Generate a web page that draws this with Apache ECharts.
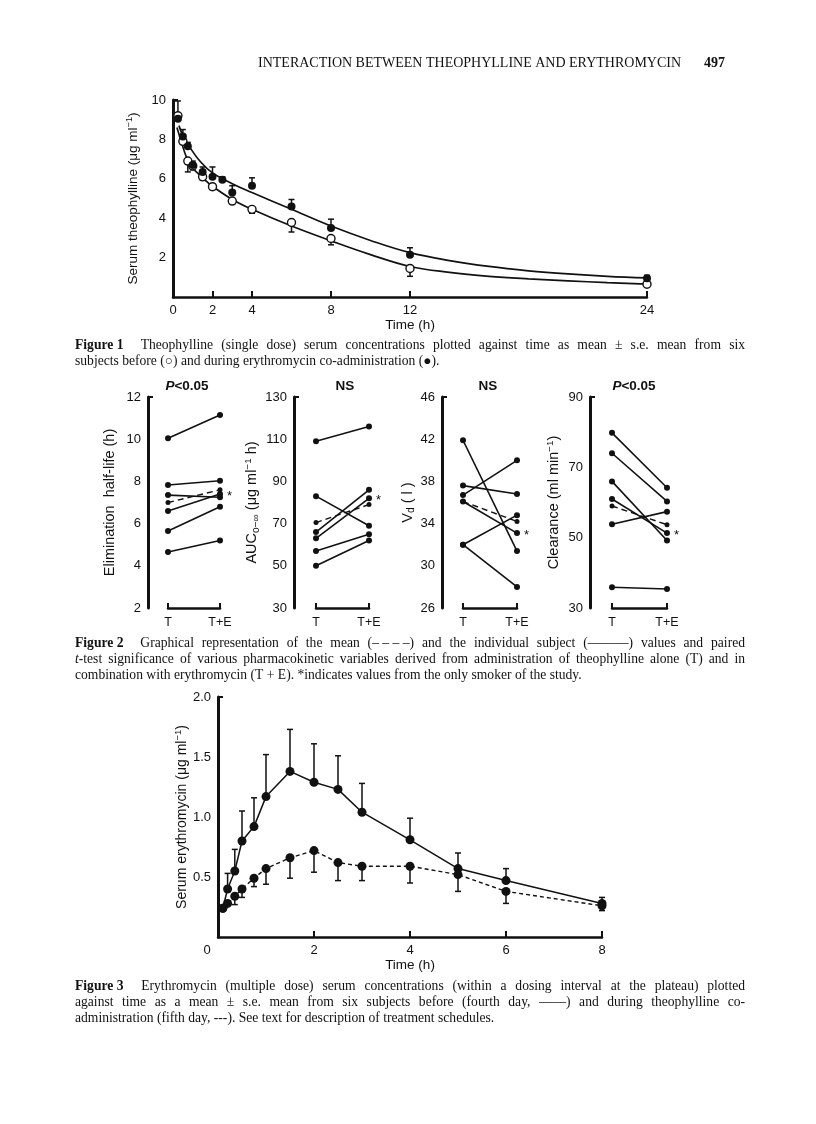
<!DOCTYPE html>
<html><head><meta charset="utf-8">
<script src="https://cdn.jsdelivr.net/npm/echarts@6/dist/echarts.min.js"></script>
<style>html,body{margin:0;padding:0;background:#fff}#c{width:816px;height:1124px}</style>
</head><body><div id="c"></div>
<script>
// ---------- Figure 1 data ----------
const fig1XTicks = [0, 2, 4, 8, 12, 24];
const fig1YTicks = [2, 4, 6, 8, 10];
const fig1OpenT = [0.25, 0.5, 0.75, 1, 1.5, 2, 3, 4, 6, 8, 12, 24];
const fig1OpenV = [9.2, 7.9, 6.9, 6.65, 6.1, 5.6, 4.87, 4.45, 3.78, 2.97, 1.45, 0.65];
const fig1OpenErr = [9.95, null, 6.35, 6.45, 5.95, 5.45, 4.75, 4.25, 3.3, 2.65, 1.05, null];
const fig1FilledT = [0.25, 0.5, 0.75, 1, 1.5, 2, 2.5, 3, 4, 6, 8, 12, 24];
const fig1FilledV = [9.05, 8.15, 7.65, 6.7, 6.35, 6.1, 5.95, 5.3, 5.65, 4.6, 3.5, 2.15, 0.95];
const fig1FilledErr = [null, 8.5, 7.85, 6.9, 6.6, 6.6, 6.1, 5.65, 6.05, 4.95, 3.95, 2.5, 1.1];
const fig1UpperCurveT = [0.3, 0.5, 0.85, 1.4, 2, 3, 4, 6, 8, 10, 12, 14, 16, 18, 20, 22, 24];
const fig1UpperCurveV = [8.7, 8.2, 7.6, 6.85, 6.3, 5.75, 5.3, 4.45, 3.6, 2.87, 2.25, 1.85, 1.55, 1.33, 1.17, 1.05, 0.97];
const fig1LowerCurveT = [0.2, 0.4, 0.7, 1, 1.5, 2, 3, 4, 6, 8, 10, 12, 14, 16, 18, 20, 22, 24];
const fig1LowerCurveV = [8.6, 7.95, 7.05, 6.55, 6.05, 5.62, 4.95, 4.45, 3.6, 2.85, 2.15, 1.55, 1.25, 1.05, 0.92, 0.82, 0.73, 0.65];

// ---------- Figure 2 data ----------
const fig2Groups = ['T', 'T+E'];
const halfLifeT = [10.05, 7.83, 7.35, 6.6, 5.65, 4.65];
const halfLifeTE = [11.15, 8.03, 7.25, 7.4, 6.8, 5.2];
const halfLifeMean = [7.0, 7.6];
const halfLifeTicks = [2, 4, 6, 8, 10, 12];
const aucT = [109, 83, 66, 63, 57, 50];
const aucTE = [116, 69, 86, 82, 65, 62];
const aucMean = [70.5, 79];
const aucTicks = [30, 50, 70, 90, 110, 130];
const vdT = [41.9, 37.6, 36.7, 36.1, 32.0, 32.0];
const vdTE = [31.4, 36.8, 40.0, 33.1, 34.8, 28.0];
const vdMean = [36.1, 34.2];
const vdTicks = [26, 30, 34, 38, 42, 46];
const clT = [79.8, 74, 66, 61, 53.8, 35.9];
const clTE = [64.2, 60.3, 49.2, 51.3, 57.4, 35.4];
const clMean = [59, 53.7];
const clTicks = [30, 50, 70, 90];
const smokerIndex = 3;
const fig2Titles = ['{i|P}<0.05', 'NS', 'NS', '{i|P}<0.05'];

// ---------- Figure 3 data ----------
const fig3XTicks = [0, 2, 4, 6, 8];
const fig3YTicks = [0.5, 1, 1.5, 2];
const fig3T = [0.1, 0.2, 0.35, 0.5, 0.75, 1, 1.5, 2, 2.5, 3, 4, 5, 6, 8];
const fig3Before = [0.24, 0.40, 0.55, 0.80, 0.92, 1.17, 1.38, 1.29, 1.23, 1.04, 0.81, 0.57, 0.47, 0.28];
const fig3BeforeErr = [null, 0.53, 0.73, 1.05, 1.16, 1.52, 1.73, 1.61, 1.51, 1.28, 0.99, 0.70, 0.57, 0.33];
const fig3During = [0.24, 0.28, 0.34, 0.40, 0.49, 0.57, 0.66, 0.72, 0.62, 0.59, 0.59, 0.52, 0.38, 0.26];
const fig3DuringErr = [null, null, 0.27, 0.33, 0.42, 0.44, 0.49, 0.54, 0.47, 0.47, 0.45, 0.38, 0.28, 0.22];

// ---------- text content ----------
const headerText = 'INTERACTION BETWEEN THEOPHYLLINE AND ERYTHROMYCIN';
const pageNumber = '497';
// '^' = bold word ('~' inside = space), '_t_' = italic t
const captions = [
  { y: 345, justify: true, text: '^Figure~1 Theophylline (single dose) serum concentrations plotted against time as mean ± s.e. mean from six' },
  { y: 361, justify: false, text: 'subjects before (○) and during erythromycin co-administration (●).' },
  { y: 643, justify: true, text: '^Figure~2 Graphical representation of the mean (–\u00a0–\u00a0–\u00a0–) and the individual subject (———) values and paired' },
  { y: 659, justify: true, text: '_t_-test significance of various pharmacokinetic variables derived from administration of theophylline alone (T) and in' },
  { y: 675, justify: false, text: 'combination with erythromycin (T + E). *indicates values from the only smoker of the study.' },
  { y: 986, justify: true, text: '^Figure~3 Erythromycin (multiple dose) serum concentrations (within a dosing interval at the plateau) plotted' },
  { y: 1002, justify: true, text: 'against time as a mean ± s.e. mean from six subjects before (fourth day, ——) and during theophylline co-' },
  { y: 1018, justify: false, text: 'administration (fifth day, ---). See text for description of treatment schedules.' }
];

// ---------- helpers ----------
const SANS = '"Liberation Sans", Arial, Helvetica, sans-serif';
const SERIF = '"Liberation Serif", "Times New Roman", serif';
const INK = '#111';
const zip = (a, b) => a.map((v, i) => [v, b[i]]);

function errSeries(idx, ts, vs, es, cap) {
  const data = [];
  ts.forEach((t, i) => { if (es[i] != null) data.push([t, vs[i], es[i]]); });
  return {
    type: 'custom', xAxisIndex: idx, yAxisIndex: idx, data, z: 2, clip: false, silent: true,
    renderItem: function (params, api) {
      const p1 = api.coord([api.value(0), api.value(1)]);
      const p2 = api.coord([api.value(0), api.value(2)]);
      const st = { stroke: INK, lineWidth: 1.5 };
      return { type: 'group', children: [
        { type: 'line', shape: { x1: p1[0], y1: p1[1], x2: p2[0], y2: p2[1] }, style: st },
        { type: 'line', shape: { x1: p2[0] - cap, y1: p2[1], x2: p2[0] + cap, y2: p2[1] }, style: st }
      ]};
    }
  };
}

function nameRich(fs) {
  return {
    n: { fontFamily: SANS, fontSize: fs, color: INK, lineHeight: 18, verticalAlign: 'middle' },
    p: { fontFamily: SANS, fontSize: fs * 0.68, color: INK, lineHeight: 18, verticalAlign: 'top' },
    s: { fontFamily: SANS, fontSize: fs * 0.7, color: INK, lineHeight: 18, verticalAlign: 'bottom' }
  };
}

function yAxisCfg(gi, min, max, ticks, name, gap, offset, fontSize, tickVals, fmt) {
  return {
    type: 'value', gridIndex: gi, min, max, offset,
    name, nameLocation: 'middle', nameRotate: 90, nameGap: gap,
    nameTextStyle: { rich: nameRich(fontSize) },
    axisLine: { show: true, onZero: false, lineStyle: { color: INK, width: 3 } },
    axisTick: { show: true, inside: true, length: 5, customValues: tickVals, lineStyle: { color: INK, width: 2 } },
    axisLabel: { customValues: ticks, margin: 7, color: INK, fontFamily: SANS, fontSize: 13, formatter: fmt || (v => String(v)) },
    splitLine: { show: false }
  };
}

// ---------- grids ----------
const grids = [
  { left: 173, top: 100, width: 474, height: 197 },
  { left: 168, top: 397, width: 52, height: 211 },
  { left: 316, top: 397, width: 53, height: 211 },
  { left: 463, top: 397, width: 54, height: 211 },
  { left: 612, top: 397, width: 55, height: 211 },
  { left: 218, top: 697, width: 384, height: 240 }
];

const xAxes = [];
const yAxes = [];
const series = [];

// Figure 1 axes
xAxes.push({
  type: 'value', gridIndex: 0, min: 0, max: 24,
  name: 'Time (h)', nameLocation: 'middle', nameGap: 21,
  nameTextStyle: { fontFamily: SANS, fontSize: 13.5, color: INK },
  axisLine: { show: true, onZero: false, lineStyle: { color: INK, width: 2.5 } },
  axisTick: { show: true, inside: true, length: 6, customValues: fig1XTicks.slice(1), lineStyle: { color: INK, width: 2 } },
  axisLabel: { customValues: fig1XTicks, margin: 7, color: INK, fontFamily: SANS, fontSize: 13 },
  splitLine: { show: false }
});
yAxes.push(yAxisCfg(0, 0, 10, fig1YTicks, '{n|Serum theophylline (μg ml}{p|−1}{n|)}', 22, 0, 13.5, [10]));

// Figure 2 axes and series
const f2 = [
  { T: halfLifeT, TE: halfLifeTE, M: halfLifeMean, ticks: halfLifeTicks, name: '{n|Elimination  half-life (h)}', gap: 29, off: 20 },
  { T: aucT, TE: aucTE, M: aucMean, ticks: aucTicks, name: '{n|AUC}{s|o−∞}{n| (μg ml}{p|−1}{n| h)}', gap: 27, off: 22 },
  { T: vdT, TE: vdTE, M: vdMean, ticks: vdTicks, name: '{n|V}{s|d}{n| ( l )}', gap: 20, off: 21 },
  { T: clT, TE: clTE, M: clMean, ticks: clTicks, name: '{n|Clearance (ml min}{p|−1}{n|)}', gap: 27, off: 22 }
];
f2.forEach((p, k) => {
  const gi = k + 1;
  const mn = p.ticks[0], mx = p.ticks[p.ticks.length - 1];
  xAxes.push({
    type: 'value', gridIndex: gi, min: 0, max: 1,
    axisLine: { show: true, onZero: false, lineStyle: { color: INK, width: 2.5 } },
    axisTick: { show: true, inside: true, length: 5, customValues: [0, 1], lineStyle: { color: INK, width: 2 } },
    axisLabel: { customValues: [0, 1], margin: 8, color: INK, fontFamily: SANS, fontSize: 12.5, formatter: v => fig2Groups[Math.round(v)] },
    splitLine: { show: false }
  });
  yAxes.push(yAxisCfg(gi, mn, mx, p.ticks, p.name, p.gap, p.off, 14.5, [mx]));
  p.T.forEach((tv, i) => {
    const end = { value: [1, p.TE[i]] };
    if (i === smokerIndex) end.label = { show: true, formatter: '*', position: 'right', distance: 4, color: INK, fontFamily: SANS, fontSize: 13, offset: [0, 2] };
    series.push({
      type: 'line', xAxisIndex: gi, yAxisIndex: gi, clip: false, silent: true,
      data: [[0, tv], end], symbol: 'circle', symbolSize: 6,
      itemStyle: { color: INK, opacity: 1 }, lineStyle: { color: INK, width: 1.6 }, z: 3
    });
  });
  series.push({
    type: 'line', xAxisIndex: gi, yAxisIndex: gi, clip: false, silent: true,
    data: zip([0, 1], p.M), symbol: 'circle', symbolSize: 5,
    itemStyle: { color: INK, opacity: 1 }, lineStyle: { color: INK, width: 1.4, type: [6, 4] }, z: 3
  });
});

// Figure 3 axes
xAxes.push({
  type: 'value', gridIndex: 5, min: 0, max: 8,
  name: 'Time (h)', nameLocation: 'middle', nameGap: 18,
  nameTextStyle: { fontFamily: SANS, fontSize: 13.5, color: INK },
  axisLine: { show: true, onZero: false, lineStyle: { color: INK, width: 2.5 } },
  axisTick: { show: true, inside: true, length: 6, customValues: fig3XTicks.slice(1), lineStyle: { color: INK, width: 2 } },
  axisLabel: { customValues: fig3XTicks, margin: 7, color: INK, fontFamily: SANS, fontSize: 13,
    formatter: v => v === 0 ? '{z|0}' : String(v),
    rich: { z: { fontFamily: SANS, fontSize: 13, color: INK, padding: [0, 22, 0, 0] } } },
  splitLine: { show: false }
});
yAxes.push(yAxisCfg(5, 0, 2, fig3YTicks, '{n|Serum erythromycin (μg ml}{p|−1}{n|)}', 26, 0, 14, [2], v => v.toFixed(1)));

// Figure 1 series
series.push(errSeries(0, fig1OpenT, fig1OpenV, fig1OpenErr, 3));
series.push(errSeries(0, fig1FilledT, fig1FilledV, fig1FilledErr, 3));
series.push({ type: 'line', xAxisIndex: 0, yAxisIndex: 0, data: zip(fig1UpperCurveT, fig1UpperCurveV), smooth: 0.4, showSymbol: false, silent: true, lineStyle: { color: INK, width: 1.7 }, z: 1 });
series.push({ type: 'line', xAxisIndex: 0, yAxisIndex: 0, data: zip(fig1LowerCurveT, fig1LowerCurveV), smooth: 0.4, showSymbol: false, silent: true, lineStyle: { color: INK, width: 1.7 }, z: 1 });
series.push({ type: 'scatter', xAxisIndex: 0, yAxisIndex: 0, data: zip(fig1OpenT, fig1OpenV), symbol: 'circle', symbolSize: 8, clip: false, silent: true,
  itemStyle: { color: '#fff', borderColor: INK, borderWidth: 1.4, opacity: 1 }, z: 4 });
series.push({ type: 'scatter', xAxisIndex: 0, yAxisIndex: 0, data: zip(fig1FilledT, fig1FilledV), symbol: 'circle', symbolSize: 8, clip: false, silent: true,
  itemStyle: { color: INK, opacity: 1 }, z: 5 });

// Figure 3 series
series.push(errSeries(5, fig3T, fig3Before, fig3BeforeErr, 3));
series.push(errSeries(5, fig3T, fig3During, fig3DuringErr, 3));
series.push({ type: 'line', xAxisIndex: 5, yAxisIndex: 5, data: zip(fig3T, fig3Before), symbol: 'circle', symbolSize: 9, clip: false, silent: true,
  itemStyle: { color: INK, opacity: 1 }, lineStyle: { color: INK, width: 1.5 }, z: 4 });
series.push({ type: 'line', xAxisIndex: 5, yAxisIndex: 5, data: zip(fig3T, fig3During), symbol: 'circle', symbolSize: 9, clip: false, silent: true,
  itemStyle: { color: INK, opacity: 1 }, lineStyle: { color: INK, width: 1.4, type: [4, 3] }, z: 4 });

// ---------- caption layout (justified like the printed page) ----------
const CAP = 13.6;
const capFonts = {
  r: CAP + 'px ' + SERIF,
  b: 'bold ' + CAP + 'px ' + SERIF,
  i: 'italic ' + CAP + 'px ' + SERIF
};
const mctx = document.createElement('canvas').getContext('2d');
function partW(p) { mctx.font = capFonts[p.st]; return mctx.measureText(p.s).width; }
function parseWord(w) {
  if (w.startsWith('^')) return [{ s: w.slice(1).replace(/~/g, ' '), st: 'b' }];
  if (w.startsWith('_t_')) return [{ s: 't', st: 'i' }, { s: w.slice(3), st: 'r' }];
  return [{ s: w, st: 'r' }];
}
const graphics = [];
const X0 = 75, X1 = 745;
captions.forEach(line => {
  const words = line.text.split(' ').map(parseWord);
  const widths = words.map(ps => ps.reduce((s, p) => s + partW(p), 0));
  const extra = words[0][0].st === 'b' ? 9 : 0;
  mctx.font = capFonts.r;
  let gap = mctx.measureText(' ').width;
  const total = widths.reduce((a, b) => a + b, 0);
  if (line.justify) gap = (X1 - X0 - total - extra) / (words.length - 1);
  let x = X0;
  words.forEach((ps, wi) => {
    let px = x;
    ps.forEach(p => {
      graphics.push({ type: 'text', x: px, y: line.y, silent: true,
        style: { text: p.s, font: capFonts[p.st], fill: INK, verticalAlign: 'middle', textVerticalAlign: 'middle' } });
      px += partW(p);
    });
    x += widths[wi] + gap + (wi === 0 ? extra : 0);
  });
});
graphics.push({ type: 'text', x: 258, y: 63, silent: true, style: { text: headerText, font: '14px ' + SERIF, fill: INK, verticalAlign: 'middle', textVerticalAlign: 'middle' } });
graphics.push({ type: 'text', x: 704, y: 63, silent: true, style: { text: pageNumber, font: 'bold 14px ' + SERIF, fill: INK, verticalAlign: 'middle', textVerticalAlign: 'middle' } });

const titleX = [187, 345, 488, 634];
fig2Titles.forEach((t, k) => {
  graphics.push({ type: 'text', x: titleX[k], y: 386, silent: true,
    style: { text: t, align: 'center', textAlign: 'center', verticalAlign: 'middle', textVerticalAlign: 'middle',
      font: 'bold 13.5px ' + SANS, fill: INK,
      rich: { i: { fontFamily: SANS, fontSize: 13.5, fontWeight: 'bold', fontStyle: 'italic', fill: INK, color: INK } } } });
});

const chart = echarts.init(document.getElementById('c'), null, { renderer: 'canvas' });
chart.setOption({
  backgroundColor: '#fff',
  animation: false,
  grid: grids,
  xAxis: xAxes,
  yAxis: yAxes,
  series,
  graphic: graphics
});
</script></body></html>
